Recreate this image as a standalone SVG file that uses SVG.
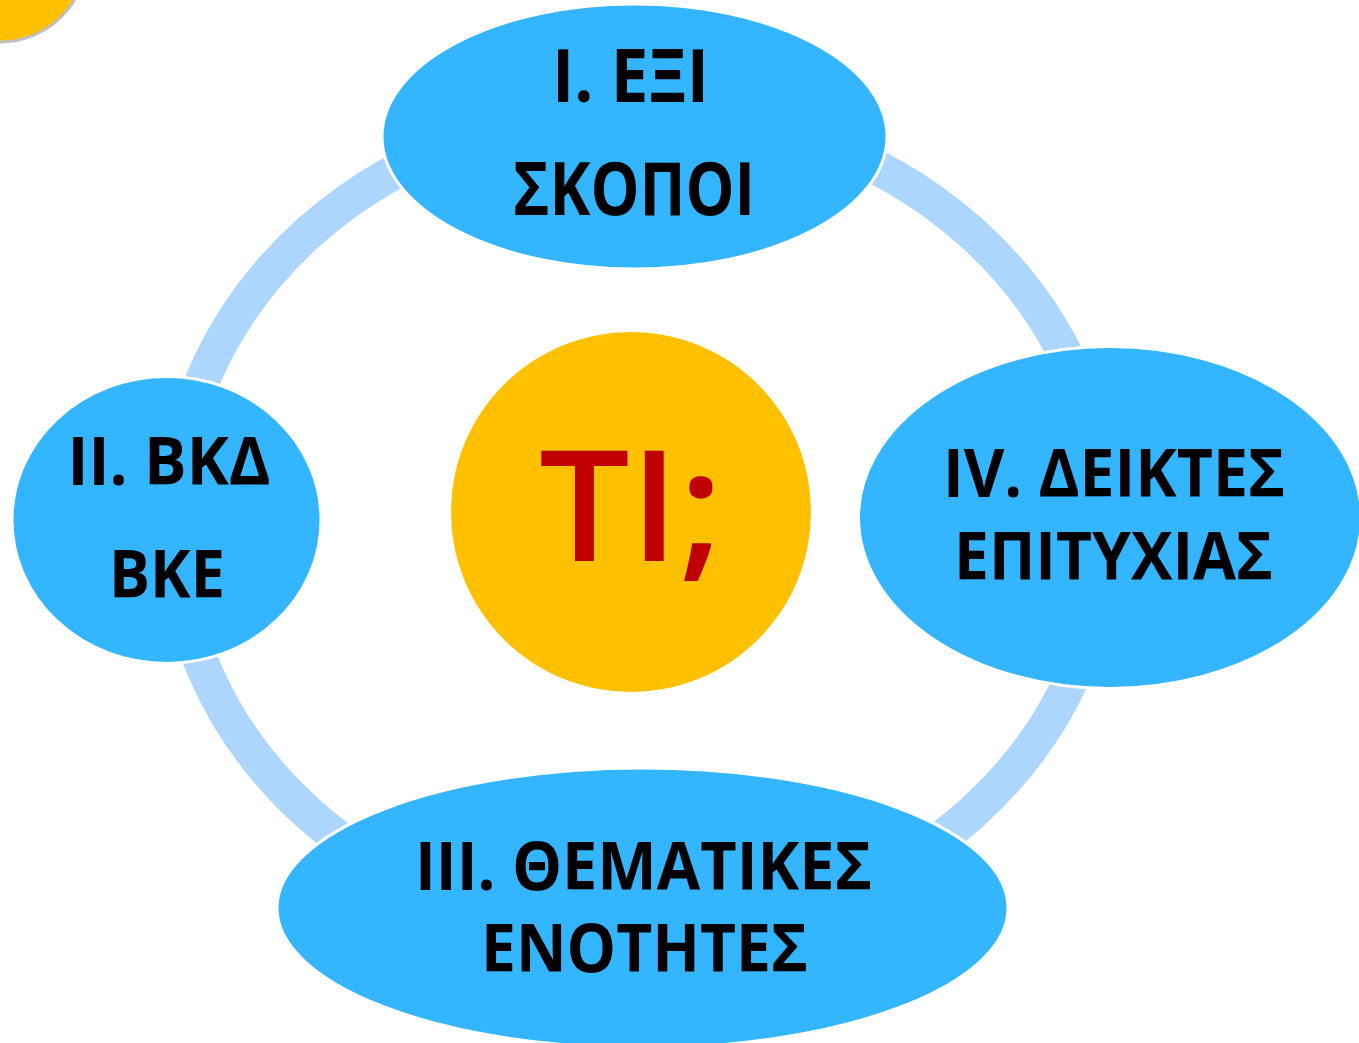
<svg xmlns="http://www.w3.org/2000/svg" width="1359" height="1043" viewBox="0 0 1359 1043">
<style>
.node{fill:#33B5FF;stroke:#FFFFFF;stroke-width:3}
.lbl{font-family:"Open Sans","Noto Sans","Liberation Sans",sans-serif;font-weight:bold;fill:#000000;text-anchor:middle}
.ring{fill:none;stroke:#ADD6FF;stroke-width:35}
</style>
<rect width="1359" height="1043" fill="#FFFFFF"/>
<g id="corner-circle">
<circle cx="0" cy="-45" r="87" fill="#FFC000" stroke="#BFBFBF" stroke-width="3"/>
</g>
<g id="connectors">
<ellipse class="ring" cx="640" cy="523" rx="466" ry="413"/>
</g>
<g id="center">
<circle cx="631" cy="512" r="180" fill="#FFC000"/>
<text x="631" y="561" font-family="'Open Sans','Noto Sans','Liberation Sans',sans-serif" font-weight="600" font-size="154" fill="#C00000" text-anchor="middle" textLength="184" lengthAdjust="spacingAndGlyphs">TI;</text>
</g>
<g id="node-top">
<ellipse class="node" cx="634.5" cy="136.5" rx="252.5" ry="132.5"/>
<text class="lbl" x="630.5" y="102" font-size="73" textLength="157" lengthAdjust="spacingAndGlyphs">I. ΕΞΙ</text>
<text class="lbl" x="634" y="215" font-size="73" textLength="242" lengthAdjust="spacingAndGlyphs">ΣΚΟΠΟΙ</text>
</g>
<g id="node-left">
<ellipse class="node" cx="166.5" cy="520" rx="154.5" ry="143.5"/>
<text class="lbl" x="169" y="485" font-size="66" textLength="203" lengthAdjust="spacingAndGlyphs">II. ΒΚΔ</text>
<text class="lbl" x="167" y="598" font-size="66" textLength="116" lengthAdjust="spacingAndGlyphs">ΒΚΕ</text>
</g>
<g id="node-right">
<ellipse class="node" cx="1110" cy="517.5" rx="251.5" ry="171"/>
<text class="lbl" x="1114" y="497" font-size="66" textLength="342" lengthAdjust="spacingAndGlyphs">IV. ΔΕΙΚΤΕΣ</text>
<text class="lbl" x="1113.5" y="580" font-size="66" textLength="319" lengthAdjust="spacingAndGlyphs">ΕΠΙΤΥΧΙΑΣ</text>
</g>
<g id="node-bottom">
<ellipse class="node" cx="642.5" cy="908" rx="365.5" ry="140"/>
<text class="lbl" x="643.5" y="890" font-size="66" textLength="457" lengthAdjust="spacingAndGlyphs">III. ΘΕΜΑΤΙΚΕΣ</text>
<text class="lbl" x="644.5" y="972" font-size="66" textLength="327" lengthAdjust="spacingAndGlyphs">ΕΝΟΤΗΤΕΣ</text>
</g>
</svg>
